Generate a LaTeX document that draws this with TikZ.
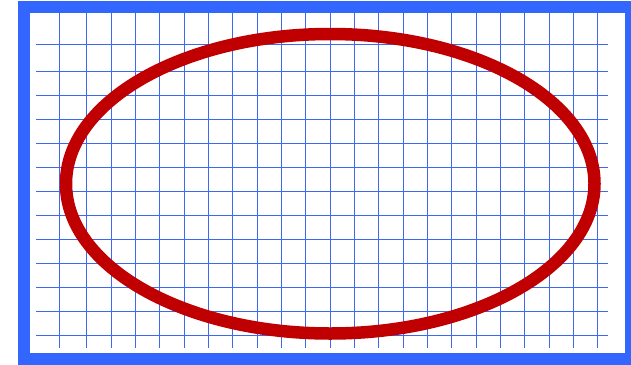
\documentclass[tikz,border=0pt]{standalone}
\usepackage{xcolor}
\usepackage{tikz}
\definecolor{frameblue}{RGB}{51,102,255}
\definecolor{gridblue}{RGB}{60,105,240}
\definecolor{ringred}{RGB}{192,0,0}

\begin{document}
\begin{tikzpicture}[x=1pt, y=-1pt]
  \useasboundingbox (0,0) rectangle (631,364);
  \clip (0,0) rectangle (631,364);

  % Grid lines
  \draw[gridblue, line width=0.9pt] (59.3,5) -- (59.3,348.3);
  \foreach \k in {0,...,21}{
    \draw[gridblue, line width=0.9pt] ({86.7+24.33*\k},5) -- ({86.7+24.33*\k},348.3);
  }
  \draw[gridblue, line width=0.9pt] (36,44.3) -- (608.3,44.3);
  \foreach \k in {0,...,11}{
    \draw[gridblue, line width=0.9pt] (36,{71.7+23.97*\k}) -- (608.3,{71.7+23.97*\k});
  }

  % Ring
  \draw[ringred, line width=12.5pt]
    (330.25,183.75) ellipse [x radius=264.25, y radius=149.75];

  % Frame
  \draw[frameblue, line width=12pt] (23.5,7) rectangle (631,358.6);
\end{tikzpicture}
\end{document}
